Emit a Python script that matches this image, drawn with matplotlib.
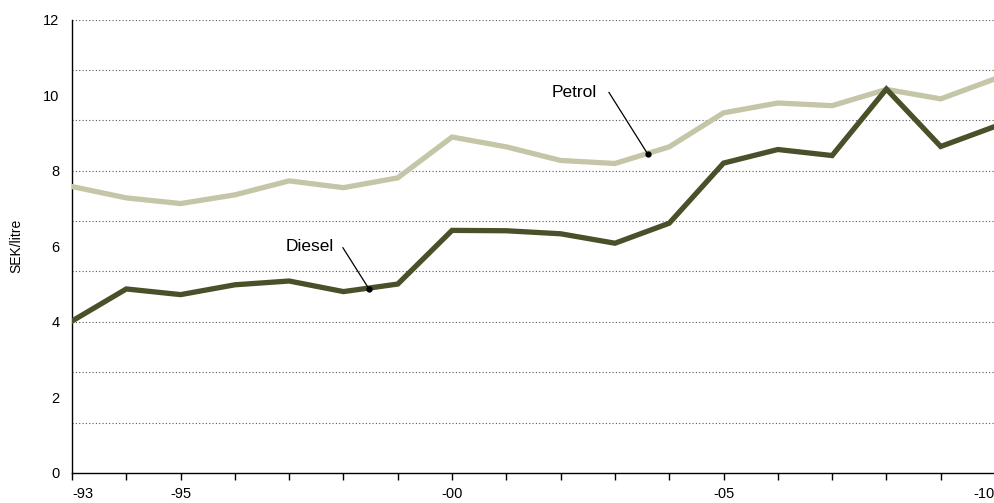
import numpy as np
import matplotlib.pyplot as plt

plt.rcParams['font.family'] = ['Liberation Sans', 'DejaVu Sans']

years = np.arange(1993, 2011)
petrol = [7.58, 7.28, 7.13, 7.36, 7.73, 7.55, 7.81, 8.89, 8.63, 8.27, 8.19, 8.63,
          9.53, 9.79, 9.72, 10.15, 9.90, 10.43]
diesel = [4.02, 4.87, 4.72, 4.98, 5.08, 4.80, 5.00, 6.42, 6.41, 6.33, 6.08, 6.61,
          8.20, 8.56, 8.40, 10.16, 8.64, 9.17]
tick_years = [1993, 1995, 2000, 2005, 2010]
tick_labels = ['-93', '-95', '-00', '-05', '-10']

fig = plt.figure(figsize=(9.95, 5.03), dpi=100)
ax = fig.add_axes([72/995, 30/503, 923/995, 453.5/503])

# dotted grid at ninths of the axis
for g in np.arange(1, 10) * 12 / 9:
    ax.axhline(g, color='#555555', lw=0.8, ls=(0, (1, 2)), zorder=1)

ax.plot(years, petrol, color='#c5c6a8', lw=3.8, zorder=3, solid_joinstyle='miter')
ax.plot(years, diesel, color='#4a5029', lw=3.8, zorder=4, solid_joinstyle='miter')

# labels with leader lines
ax.plot([2002.89, 2003.6], [10.07, 8.45], color='black', lw=0.9, zorder=5)
ax.plot(2003.6, 8.45, 'o', color='black', ms=3.5, zorder=6)
ax.text(2002.25, 10.07, 'Petrol', ha='center', va='center', fontsize=12.5)

ax.plot([1997.99, 1998.47], [5.96, 4.87], color='black', lw=0.9, zorder=5)
ax.plot(1998.47, 4.87, 'o', color='black', ms=3.5, zorder=6)
ax.text(1997.38, 6.0, 'Diesel', ha='center', va='center', fontsize=12.5)

ax.set_xlim(1993, 2010)
ax.set_ylim(0, 12)
ax.set_yticks(np.arange(0, 13, 2))
ax.tick_params(axis='y', length=0, pad=9, labelsize=10.5)
ax.set_xticks(years)
ax.set_xticklabels([tick_labels[tick_years.index(y)] if y in tick_years else ''
                    for y in years])
ax.tick_params(axis='x', length=5, width=1, direction='out', pad=5, labelsize=10.5)
labs = ax.get_xticklabels()
labs[0].set_ha('left')
labs[-1].set_ha('right')

for s in ['top', 'right']:
    ax.spines[s].set_visible(False)
ax.spines['left'].set_linewidth(1)
ax.spines['bottom'].set_linewidth(1)

ax.set_ylabel('SEK/litre', fontsize=10, labelpad=14)

fig.savefig('out.png', dpi=100)
